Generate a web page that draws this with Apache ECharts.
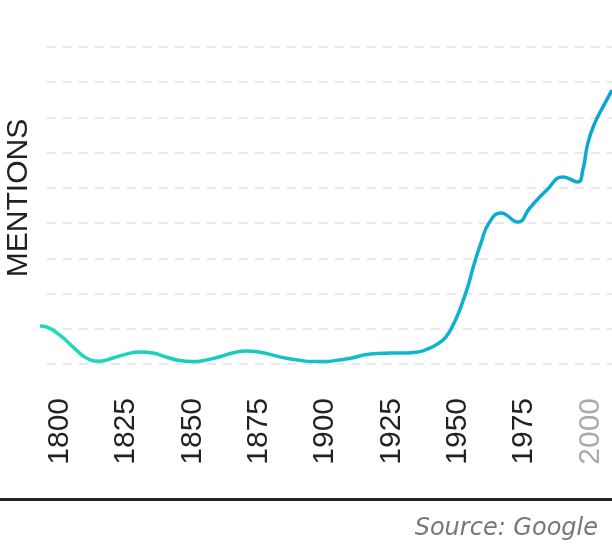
<!DOCTYPE html>
<html>
<head>
<meta charset="utf-8">
<script src="https://cdn.jsdelivr.net/npm/echarts@6/dist/echarts.min.js"></script>
<style>
  html, body { margin: 0; padding: 0; background: #fff; }
  #chart { width: 612px; height: 544px; }
</style>
</head>
<body>
<div id="chart"></div>
<script>
// values (mentions in gridline units)
var years = [1792.5, 1795, 1800, 1805, 1810, 1815, 1820, 1825, 1830, 1835, 1840, 1845, 1850, 1855, 1860, 1865, 1870, 1875, 1880, 1885, 1890, 1895, 1900, 1905, 1910, 1915, 1920, 1925, 1930, 1935, 1938.5, 1942, 1945.6, 1948.6, 1951.2, 1953.8, 1956.1, 1958.8, 1961.8, 1966.3, 1972.7, 1977.2, 1983.6, 1989.7, 1995.3, 1997.2, 1999.1, 2001.7, 2004.8, 2008.2];
var mentions = [1.08, 1.05, 0.82, 0.48, 0.17, 0.08, 0.17, 0.28, 0.34, 0.31, 0.2, 0.1, 0.07, 0.11, 0.2, 0.31, 0.37, 0.34, 0.26, 0.17, 0.11, 0.07, 0.07, 0.11, 0.17, 0.26, 0.3, 0.31, 0.31, 0.34, 0.42, 0.55, 0.77, 1.16, 1.62, 2.19, 2.81, 3.44, 4.0, 4.29, 4.03, 4.43, 4.94, 5.31, 5.17, 5.51, 6.27, 6.84, 7.3, 7.78];
var tickYears = [1800, 1825, 1850, 1875, 1900, 1925, 1950, 1975, 2000];
var greyYears = [2000];

var points = years.map(function (y, i) { return [y, mentions[i]]; });

var myChart = echarts.init(document.getElementById('chart'));

var option = {
    animation: false,
    grid: {
        left: 40,
        right: 0,
        top: 47,
        bottom: 180
    },
    xAxis: {
        type: 'value',
        min: 1792.5,
        max: 2008.2,
        axisLine: { show: false },
        axisTick: { show: false },
        splitLine: { show: false },
        axisLabel: {
            customValues: tickYears,
            rotate: 90,
            margin: 34,
            fontSize: 30,
            fontFamily: 'Liberation Sans',
            formatter: function (value) { return String(value); },
            color: function (value) {
                return greyYears.indexOf(Number(value)) >= 0 ? '#aaaaaa' : '#222222';
            }
        }
    },
    yAxis: {
        type: 'value',
        min: 0,
        max: 9,
        interval: 1,
        axisLine: { show: false },
        axisTick: { show: false },
        axisLabel: { show: false },
        splitLine: {
            lineStyle: {
                color: '#e6e8ec',
                width: 2,
                type: [9, 7],
                dashOffset: 9
            }
        }
    },
    series: [{
        type: 'line',
        data: points,
        smooth: 0.5,
        showSymbol: false,
        lineStyle: {
            width: 3.5,
            color: {
                type: 'linear',
                x: 0, y: 0, x2: 1, y2: 0,
                colorStops: [
                    { offset: 0, color: '#1fdcb6' },
                    { offset: 0.45, color: '#14c3c6' },
                    { offset: 0.75, color: '#0cb0d2' },
                    { offset: 1, color: '#0aa6d3' }
                ]
            }
        }
    }],
    graphic: [
        {
            type: 'text',
            x: 19,
            y: 198,
            rotation: Math.PI / 2,
            style: {
                text: 'MENTIONS',
                fontSize: 30,
                fontFamily: 'Liberation Sans',
                fill: '#222222',
                align: 'center',
                verticalAlign: 'middle'
            }
        },
        {
            type: 'rect',
            shape: { x: 0, y: 498, width: 612, height: 3 },
            style: { fill: '#222222' }
        },
        {
            type: 'text',
            x: 598,
            y: 529,
            style: {
                text: 'Source: Google',
                fontSize: 24,
                fontStyle: 'italic',
                fontFamily: 'DejaVu Sans',
                fill: '#777777',
                align: 'right',
                verticalAlign: 'middle'
            }
        }
    ]
};

myChart.setOption(option);
</script>
</body>
</html>
